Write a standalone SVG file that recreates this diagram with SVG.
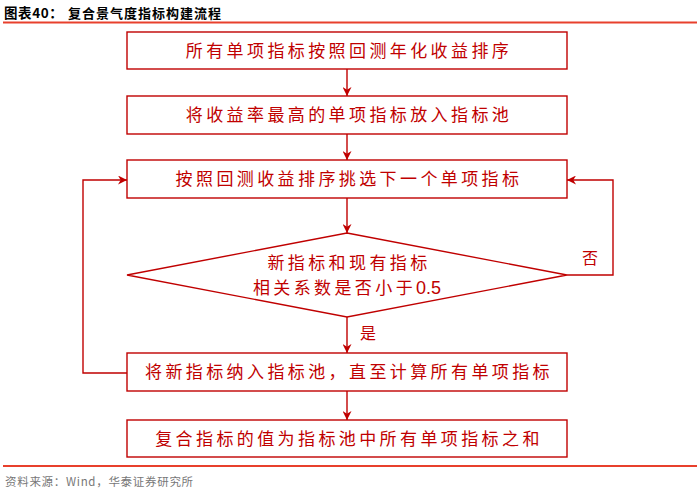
<svg xmlns="http://www.w3.org/2000/svg" width="700" height="488" viewBox="0 0 700 488">
<style>
.box{fill:#fff;stroke:#C00000;stroke-width:1.4}
.t{font-family:"Noto Sans CJK SC","Noto Sans",sans-serif;font-size:17px;fill:#C00000;text-anchor:middle;letter-spacing:3.4px}
.lbl{font-family:"Noto Sans CJK SC","Noto Sans",sans-serif;font-size:16px;fill:#C00000;text-anchor:middle}
.c{fill:none;stroke:#C00000;stroke-width:1.4}
</style>
<defs>
<marker id="ah" viewBox="0 0 10 10" refX="10" refY="5" markerWidth="9" markerHeight="9" markerUnits="userSpaceOnUse" orient="auto">
<path d="M0,0 L10,5 L0,10 L3,5 Z" fill="#C00000"/>
</marker>
</defs>
<rect width="700" height="488" fill="#fff"/>
<g id="header">
<text x="4" y="17.5" font-family="'Noto Sans CJK SC',sans-serif" font-size="13.5" font-weight="bold" fill="#000" letter-spacing="0.6">图表40：</text>
<text x="68" y="17.5" font-family="'Noto Sans CJK SC',sans-serif" font-size="13" font-weight="bold" fill="#000" letter-spacing="1">复合景气度指标构建流程</text>
<line x1="3" y1="22.5" x2="697" y2="22.5" stroke="#E8402C" stroke-width="2"/>
</g>
<g id="connectors">
<line class="c" x1="347" y1="69" x2="347" y2="96" marker-end="url(#ah)"/>
<line class="c" x1="347" y1="134" x2="347" y2="160" marker-end="url(#ah)"/>
<line class="c" x1="347" y1="198" x2="347" y2="233" marker-end="url(#ah)"/>
<line class="c" x1="347" y1="317" x2="347" y2="353" marker-end="url(#ah)"/>
<line class="c" x1="347" y1="391" x2="347" y2="420" marker-end="url(#ah)"/>
<polyline class="c" points="127,373 83,373 83,180 127,180" marker-end="url(#ah)"/>
<polyline class="c" points="567,275 613,275 613,180 567,180" marker-end="url(#ah)"/>
<text class="lbl" x="590" y="264">否</text>
<text class="lbl" x="368" y="339">是</text>
</g>
<g id="n1">
<rect class="box" x="127" y="32" width="440" height="37"/>
<text class="t" x="349" y="56.5">所有单项指标按照回测年化收益排序</text>
</g>
<g id="n2">
<rect class="box" x="127" y="96" width="440" height="38"/>
<text class="t" x="349" y="121">将收益率最高的单项指标放入指标池</text>
</g>
<g id="n3">
<rect class="box" x="127" y="160" width="440" height="38"/>
<text class="t" x="349" y="185">按照回测收益排序挑选下一个单项指标</text>
</g>
<g id="n4">
<polygon class="box" points="347,233 567,275 347,317 127,275"/>
<text class="t" x="349" y="269">新指标和现有指标</text>
<text class="t" x="347" y="293.5">相关系数是否小于<tspan font-family="'Liberation Sans',sans-serif" font-size="18" letter-spacing="0">0.5</tspan></text>
</g>
<g id="n5">
<rect class="box" x="127" y="353" width="440" height="38"/>
<text class="t" x="349" y="378">将新指标纳入指标池，直至计算所有单项指标</text>
</g>
<g id="n6">
<rect class="box" x="127" y="420" width="440" height="37"/>
<text class="t" x="349" y="444.5">复合指标的值为指标池中所有单项指标之和</text>
</g>
<g id="footer">
<line x1="3" y1="466" x2="697" y2="466" stroke="#E8402C" stroke-width="2"/>
<text x="5" y="485.5" font-family="'Noto Sans CJK SC',sans-serif" font-size="11.5" fill="#777" letter-spacing="0.7">资料来源：Wind，华泰证券研究所</text>
</g>
</svg>
